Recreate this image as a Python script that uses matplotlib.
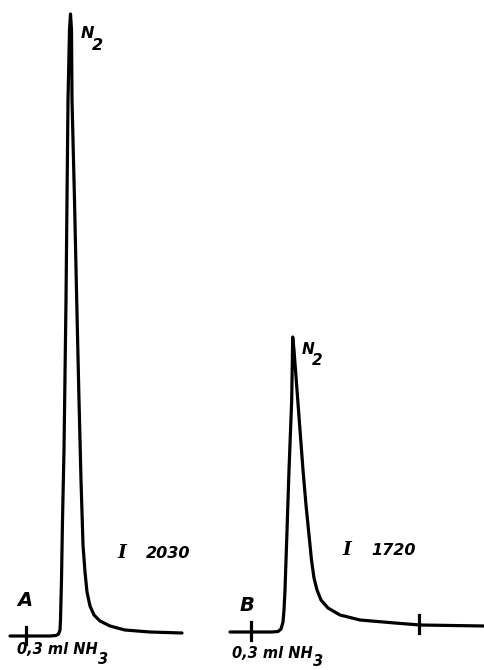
import matplotlib.pyplot as plt

trace_a_x = [10, 26, 50, 56, 58.5, 60, 60.5, 61.5, 62.5, 64, 66, 68, 69.5, 70.5,
             71.5, 72, 74.5, 76.7, 79, 81, 83, 85, 87, 90, 94, 100, 110, 125, 150, 182]
trace_a_y = [636, 636, 636, 635.5, 634, 630, 620, 580, 520, 450, 300, 100, 30, 14,
             30, 100, 200, 300, 400, 480, 545, 572, 592, 606, 615, 621, 626, 630, 632, 633]

trace_b_x = [230, 251, 272, 278, 281, 283, 284, 285, 286.7, 289, 291.7, 292.7,
             294, 297, 300, 303, 306, 309, 311.5, 314, 317, 321, 328, 340,
             360, 395, 420, 484]
trace_b_y = [632, 632, 632, 631.5, 629, 622, 610, 590, 540, 470, 400, 337,
             350, 390, 430, 470, 505, 535, 560, 578, 590, 600, 608, 615,
             620, 623, 625, 626]

# Repères d'injection / marques
ticks_x = [26, 251, 419]
ticks_y0 = [627, 622, 615]
ticks_y1 = [644, 640, 633]

fig = plt.figure(figsize=(4.84, 6.70), dpi=100)
ax = fig.add_axes([0, 0, 1, 1])
ax.set_xlim(0, 484)
ax.set_ylim(670, 0)
ax.axis('off')

lw = 2.3
ax.plot(trace_a_x, trace_a_y, color='black', lw=lw, solid_joinstyle='round', solid_capstyle='round')
ax.plot(trace_b_x, trace_b_y, color='black', lw=lw, solid_joinstyle='round', solid_capstyle='round')
for x, y0, y1 in zip(ticks_x, ticks_y0, ticks_y1):
    ax.plot([x, x], [y0, y1], color='black', lw=lw)

txt = dict(style='italic', weight='bold', color='black', ha='left', va='baseline',
           family='DejaVu Sans')
fig.canvas.draw()
renderer = fig.canvas.get_renderer()


def formula(x, y, main, sub, size, subsize, dx, dy):
    t = ax.text(x, y, main, fontsize=size, **txt)
    bb = t.get_window_extent(renderer).transformed(ax.transData.inverted())
    ax.text(bb.x1 + dx, y + dy, sub, fontsize=subsize, **txt)


# N2 au sommet des pics
formula(81, 38, 'N', '2', 11.5, 11.5, -3, 12)
formula(302, 354, 'N', '2', 11, 11, -3, 11)

# indices
for x, val, y in [(117, '2030', 558), (342, '1720', 555)]:
    ax.text(x, y, 'I', fontsize=13.5, style='italic', weight='bold', family='DejaVu Serif',
            color='black', ha='left', va='baseline')
    ax.text(x + 29, y, val, fontsize=11.5, **txt)

ax.text(17, 606, 'A', fontsize=14, **txt)
ax.text(240, 611, 'B', fontsize=14, **txt)

formula(17, 654, '0,3 ml NH', '3', 10.5, 10.5, 0, 10)
formula(232, 658, '0,3 ml NH', '3', 10.5, 10.5, 0, 8)

fig.savefig('out.png', dpi=100)
